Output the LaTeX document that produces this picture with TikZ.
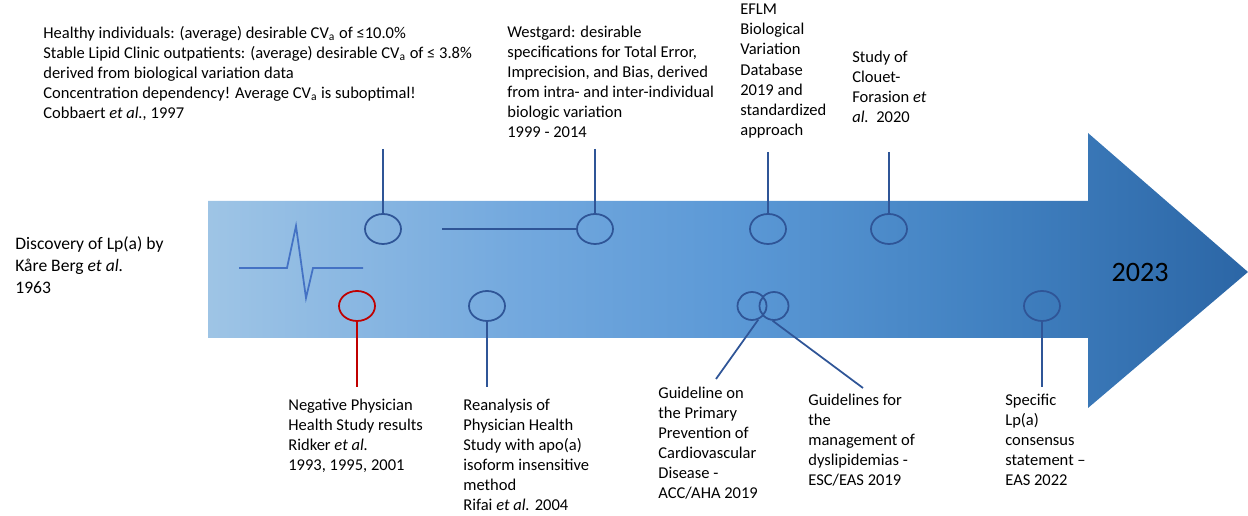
\documentclass[tikz,border=0pt]{standalone}
\usepackage{fontspec}
\setmainfont{Carlito}
\usetikzlibrary{shapes.geometric}
\definecolor{lineblue}{RGB}{47,85,151}
\definecolor{linered}{RGB}{192,0,0}
\definecolor{pulseblue}{RGB}{68,114,196}
\pgfdeclarehorizontalshading{arrowfade}{100bp}{rgb(0bp)=(0.62,0.77,0.90); rgb(25bp)=(0.62,0.77,0.90); rgb(40bp)=(0.45,0.66,0.87); rgb(50bp)=(0.36,0.60,0.84); rgb(62bp)=(0.26,0.51,0.76); rgb(75bp)=(0.17,0.40,0.65); rgb(100bp)=(0.17,0.40,0.65)}

\begin{document}
\begin{tikzpicture}
[x=0.02cm, y=-0.02cm,
 ring/.style={draw=lineblue, line width=1pt, ellipse, minimum width=0.72cm, minimum height=0.6cm, inner sep=0pt},
 smallring/.style={ring, minimum width=0.58cm, minimum height=0.56cm},
 redring/.style={ring, draw=linered},
 stem/.style={draw=lineblue, line width=1pt},
 label/.style={anchor=north west, inner sep=0pt, align=left, font=\fontsize{9.4}{11.4}\selectfont},
]
\def \rowtop {229}
\def \rowbot {306}
\useasboundingbox (0,0) rectangle (1248,516);

% the time arrow
\shade[shading=arrowfade]
  (208,201) -- (1088,201) -- (1088,133) -- (1248,272) -- (1088,408) -- (1088,338) -- (208,338) -- cycle;
\draw[pulseblue, line width=1pt] (239,268) -- (287,268) -- (296,226) -- (306,298) -- (313,268) -- (363,268);
\node[font=\fontsize{16}{19}\selectfont, inner sep=0pt] (year) at (1140,272) {2023};

% milestones
\foreach \s/\x in {1/383,2/595,3/768,4/889}
{
{\node[ring] (top\s) at (\x,\rowtop) {};}
}
\node[redring] (neg) at (357,\rowbot) {};
\node[ring] (rean) at (487,\rowbot) {};
\node[smallring] (acc) at (752,\rowbot) {};
\node[smallring] (esc) at (774,\rowbot) {};
\node[ring] (eas) at (1042,\rowbot) {};

% texts
\node[label, font=\fontsize{10}{12.5}\selectfont] (berg) at (15,236) {Discovery of Lp(a) by\\Kåre Berg \textit{et al.}\\1963};
\node[label] (cobbaert) at (43,26) {Healthy individuals: (average) desirable CV\textsubscript{a} of ≤10.0\%\\Stable Lipid Clinic outpatients: (average) desirable CV\textsubscript{a} of ≤ 3.8\%\\derived from biological variation data\\Concentration dependency! Average CV\textsubscript{a} is suboptimal!\\Cobbaert \textit{et al.,} 1997};
\node[label] (westgard) at (507,26) {Westgard: desirable\\specifications for Total Error,\\Imprecision, and Bias, derived\\from intra- and inter-individual\\biologic variation\\1999 - 2014};
\node[label] (eflm) at (740,4) {EFLM\\Biological\\Variation\\Database\\2019 and\\standardized\\approach};
\node[label] (clouet) at (852,51) {Study of\\Clouet-\\Forasion \textit{et}\\\textit{al.}~~2020};
\node[label] (ridker) at (288,399) {Negative Physician\\Health Study results\\Ridker \textit{et al.}\\1993, 1995, 2001};
\node[label] (rifai) at (463,399) {Reanalysis of\\Physician Health\\Study with apo(a)\\isoform insensitive\\method\\Rifai \textit{et al.} 2004};
\node[label] (accaha) at (658,387) {Guideline on\\the Primary\\Prevention of\\Cardiovascular\\Disease -\\ACC/AHA 2019};
\node[label] (esceas) at (808,394) {Guidelines for\\the\\management of\\dyslipidemias -\\ESC/EAS 2019};
\node[label] (consensus) at (1005,394) {Specific\\Lp(a)\\consensus\\statement –\\EAS 2022};

% stems
\coordinate (a1) at (383,149);
\coordinate (a2) at (595,149);
\coordinate (a3) at (768,152);
\coordinate (a4) at (889,152);
\coordinate (w2) at (442,\rowtop);
\coordinate (b1) at (357,387);
\coordinate (b2) at (487,387);
\coordinate (b3) at (716,379);
\coordinate (b4) at (863,388);
\coordinate (b5) at (1042,387);

\draw[stem] (a1) -- (top1);
\draw[stem] (a2) -- (top2);
\draw[stem] (w2) -- (top2);
\draw[stem] (a3) -- (top3);
\draw[stem] (a4) -- (top4);
\draw[stem, draw=linered] (neg) -- (b1);
\draw[stem] (rean) -- (b2);
\draw[stem] (acc.-65) -- (b3);
\draw[stem] (esc.-95) -- (b4);
\draw[stem] (eas) -- (b5);
\end{tikzpicture}
\end{document}
